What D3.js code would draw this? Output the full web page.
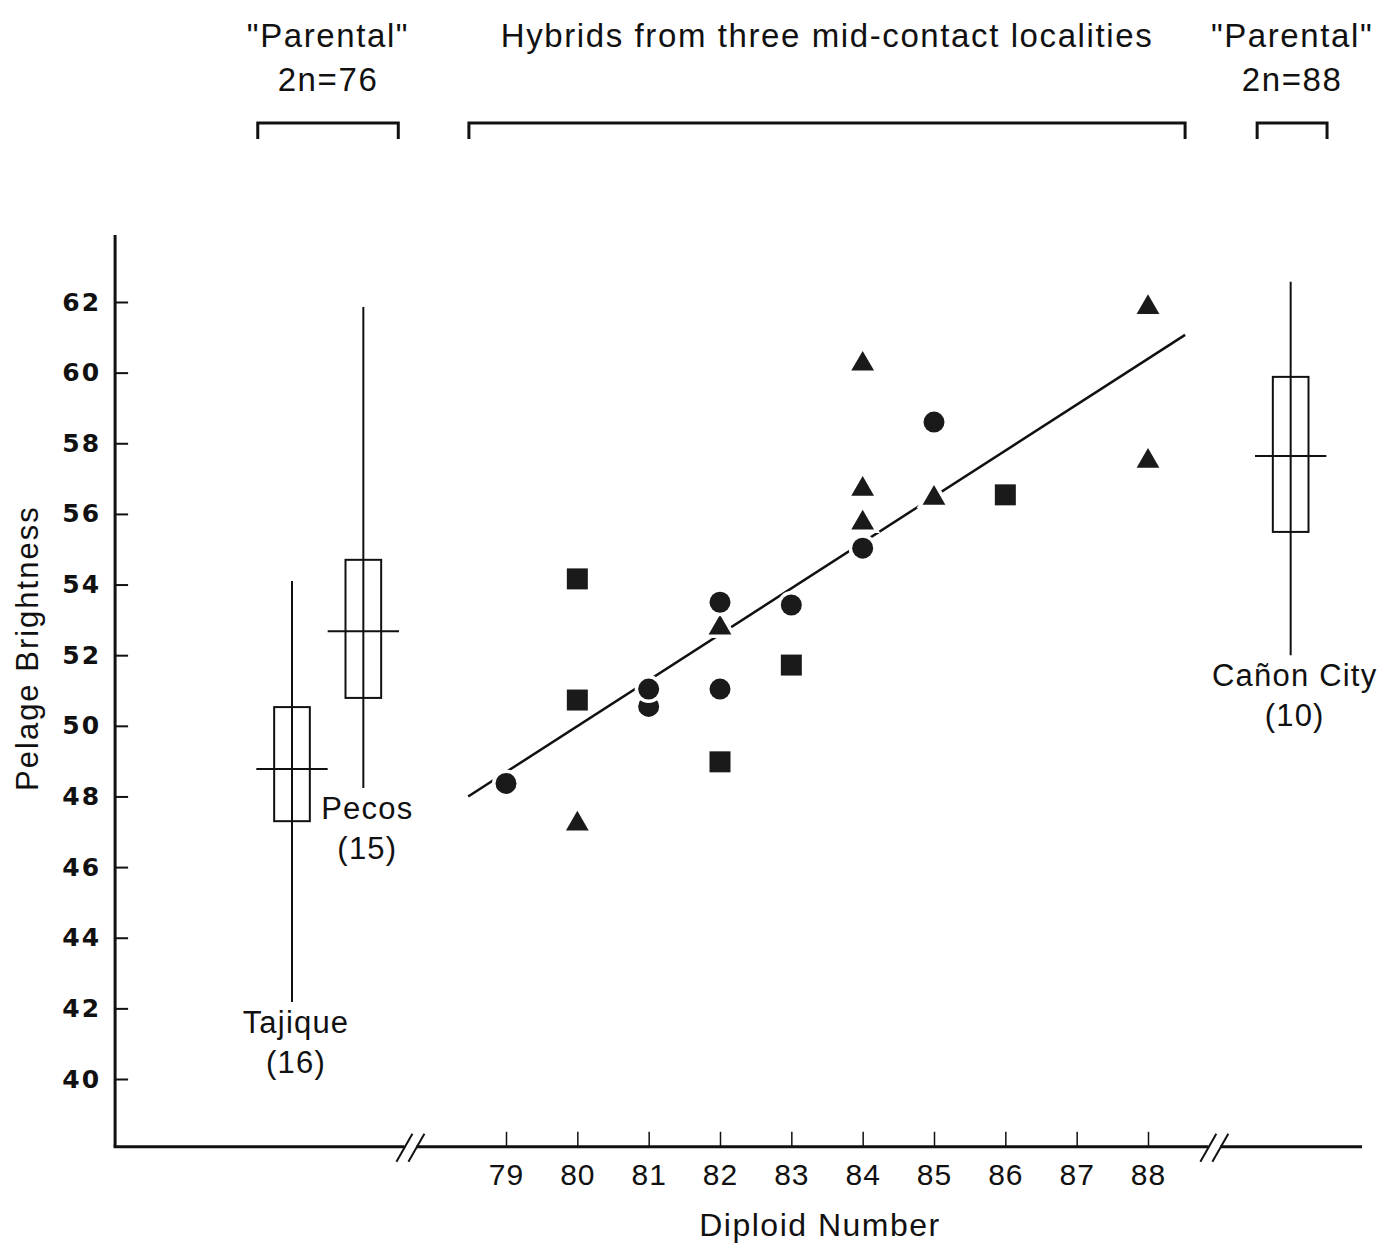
<!DOCTYPE html>
<html lang="en">
  <head>
    <meta charset="UTF-8" />
    <title>Pelage Brightness vs Diploid Number</title>
    <style>
  body { margin: 0; background: #fff; }
  .chart text { font-family: "Liberation Sans", Arial, sans-serif; fill: #111; }
  .ytick text { font-family: "DejaVu Sans", sans-serif; font-weight: bold; }
</style>
  </head>
  <body>
<div class="chart"></div>
  <script src="https://cdn.jsdelivr.net/npm/d3@7"></script>
    <script>

    var width = 1393;
    var height = 1245;

    // hybrid individuals, one array pair per symbol (three localities)
    var circleX = [79, 81, 81, 82, 82, 83, 84, 85];
    var circleY = [48.37, 50.55, 51.04, 53.5, 51.04, 53.42, 55.03, 58.6];
    var squareX = [80, 80, 82, 83, 86];
    var squareY = [54.16, 50.73, 48.98, 51.72, 56.54];
    var triangleX = [80, 82, 84, 84, 84, 85, 88, 88];
    var triangleY = [47.28, 52.83, 60.3, 56.76, 55.8, 56.5, 61.9, 57.55];

    // regression line end points
    var fitX = [78.47, 88.52];
    var fitY = [48.0, 61.07];

    // "parental" samples, placed on the broken part of the axis
    var parentNames = ["Tajique", "Pecos", "Cañon City"];
    var parentPos = [76, 77, 90];
    var parentN = [16, 15, 10];
    var parentMean = [48.78, 52.68, 57.64];
    var parentLo = [47.3, 50.79, 55.49];
    var parentHi = [50.53, 54.7, 59.88];
    var parentMin = [42.18, 48.24, 52.0];
    var parentMax = [54.1, 61.86, 62.57];

    var xTicks = [79, 80, 81, 82, 83, 84, 85, 86, 87, 88];
    var yTicks = [40, 42, 44, 46, 48, 50, 52, 54, 56, 58, 60, 62];

    // group brackets at the top
    var groupLabels = [["\"Parental\"", "2n=76"], ["Hybrids from three mid-contact localities"], ["\"Parental\"", "2n=88"]];
    var groupFrom = [75.52, 78.48, 89.53];
    var groupTo = [77.49, 88.52, 90.51];

    var breaks = [77.66, 88.93];

    var x = d3.scaleLinear().domain([79, 88]).range([506, 1148]);
    var y = d3.scaleLinear().domain([40, 62]).range([1079, 302]);

    var xLeft = 73.52, xRight = 91.0;
    var yBottom = 38.08, yTop = 63.9;

    var svg = d3.select(".chart")
        .append("svg")
        .attr("width", width)
        .attr("height", height);

    // axes lines
    svg.append("line")
        .attr("x1", x(xLeft)).attr("x2", x(xLeft))
        .attr("y1", y(yTop)).attr("y2", y(yBottom))
        .attr("stroke", "#111").attr("stroke-width", 3);
    svg.append("line")
        .attr("x1", x(xLeft) - 1.5).attr("x2", x(xRight))
        .attr("y1", y(yBottom)).attr("y2", y(yBottom))
        .attr("stroke", "#111").attr("stroke-width", 3);

    // axis breaks
    breaks.forEach(function(b){
      var cx = x(b), cy = y(yBottom);
      svg.append("rect")
          .attr("x", cx - 6).attr("y", cy - 3)
          .attr("width", 12).attr("height", 6)
          .attr("fill", "#fff");
      [-6, 6].forEach(function(o){
        svg.append("line")
            .attr("x1", cx + o - 8).attr("y1", cy + 15)
            .attr("x2", cx + o + 8).attr("y2", cy - 13)
            .attr("stroke", "#111").attr("stroke-width", 2);
      });
    });

    var yAxis = d3.axisLeft(y)
        .tickValues(yTicks)
        .tickSizeInner(-13)
        .tickSizeOuter(0)
        .tickPadding(14);
    var gy = svg.append("g")
        .attr("class", "ytick")
        .attr("transform", "translate(" + x(xLeft) + ",0)")
        .call(yAxis);
    gy.select(".domain").remove();
    gy.selectAll("line").attr("stroke", "#111").attr("stroke-width", 2);
    gy.selectAll("text").attr("font-size", 25).attr("letter-spacing", 2).attr("fill", "#111");

    var xAxis = d3.axisBottom(x)
        .tickValues(xTicks)
        .tickSizeInner(-15)
        .tickSizeOuter(0)
        .tickPadding(17);
    var gx = svg.append("g")
        .attr("transform", "translate(0," + y(yBottom) + ")")
        .call(xAxis);
    gx.select(".domain").remove();
    gx.selectAll("line").attr("stroke", "#111").attr("stroke-width", 1.5);
    gx.selectAll("text")
        .attr("font-size", 30)
        .attr("letter-spacing", 1)
        .attr("fill", "#111")
        .style("font-family", "'Liberation Sans', sans-serif");

    svg.append("text")
        .attr("x", 820).attr("y", 1236)
        .attr("text-anchor", "middle")
        .attr("font-size", 32)
        .attr("letter-spacing", 1.5)
        .text("Diploid Number");

    svg.append("text")
        .attr("transform", "translate(38," + y(52.2) + ") rotate(-90)")
        .attr("text-anchor", "middle")
        .attr("font-size", 31)
        .attr("letter-spacing", 2)
        .text("Pelage Brightness");

    // brackets and group labels
    var bracketY = 123;
    groupLabels.forEach(function(lines, i){
      var x0 = x(groupFrom[i]), x1 = x(groupTo[i]);
      svg.append("path")
          .attr("d", "M" + x0 + "," + (bracketY + 16) + "V" + bracketY + "H" + x1 + "V" + (bracketY + 16))
          .attr("fill", "none").attr("stroke", "#111").attr("stroke-width", 3);
      lines.forEach(function(t, j){
        svg.append("text")
            .attr("x", (x0 + x1) / 2)
            .attr("y", 47 + j * 44)
            .attr("text-anchor", "middle")
            .attr("font-size", 33)
            .attr("letter-spacing", 1.6)
            .text(t);
      });
    });

    // box plots for the parental samples
    var boxes = svg.append("g");
    parentNames.forEach(function(name, i){
      var cx = x(parentPos[i]);
      var g = boxes.append("g").attr("stroke", "#111").attr("stroke-width", 2).attr("fill", "none");
      g.append("line")
          .attr("x1", cx).attr("x2", cx)
          .attr("y1", y(parentMax[i])).attr("y2", y(parentMin[i]));
      g.append("rect")
          .attr("x", x(parentPos[i] - 0.25)).attr("width", x(parentPos[i] + 0.25) - x(parentPos[i] - 0.25))
          .attr("y", y(parentHi[i])).attr("height", y(parentLo[i]) - y(parentHi[i]));
      g.append("line")
          .attr("x1", x(parentPos[i] - 0.5)).attr("x2", x(parentPos[i] + 0.5))
          .attr("y1", y(parentMean[i])).attr("y2", y(parentMean[i]));
      boxes.append("text")
          .attr("x", cx + 4).attr("y", y(parentMin[i]) + 31)
          .attr("text-anchor", "middle")
          .attr("font-size", 31)
          .attr("letter-spacing", 1.2)
          .text(name);
      boxes.append("text")
          .attr("x", cx + 4).attr("y", y(parentMin[i]) + 71)
          .attr("text-anchor", "middle")
          .attr("font-size", 31)
          .attr("letter-spacing", 1.2)
          .text("(" + parentN[i] + ")");
    });

    // regression line
    svg.append("line")
        .attr("x1", x(fitX[0])).attr("y1", y(fitY[0]))
        .attr("x2", x(fitX[1])).attr("y2", y(fitY[1]))
        .attr("stroke", "#111").attr("stroke-width", 2.5);

    // hybrid points, a white halo cuts the line around each symbol
    var pts = svg.append("g")
        .attr("fill", "#1a1a1a")
        .attr("stroke", "#fff")
        .attr("stroke-width", 7)
        .style("paint-order", "stroke");

    var sq = d3.symbol().type(d3.symbolSquare).size(21 * 21);
    var tri = d3.symbol().type(d3.symbolTriangle).size(225);

    pts.selectAll("path.sq")
        .data(squareX)
        .enter()
        .append("path")
        .attr("class", "sq")
        .attr("d", sq)
        .attr("transform", function(d, i){ return "translate(" + x(d) + "," + y(squareY[i]) + ")"; });

    pts.selectAll("path.tri")
        .data(triangleX)
        .enter()
        .append("path")
        .attr("class", "tri")
        .attr("d", tri)
        .attr("transform", function(d, i){ return "translate(" + x(d) + "," + (y(triangleY[i]) + 2) + ")"; });

    pts.selectAll("circle")
        .data(circleX)
        .enter()
        .append("circle")
        .attr("cx", function(d){ return x(d); })
        .attr("cy", function(d, i){ return y(circleY[i]); })
        .attr("r", 10.5);

    </script>
  </body>
</html>
